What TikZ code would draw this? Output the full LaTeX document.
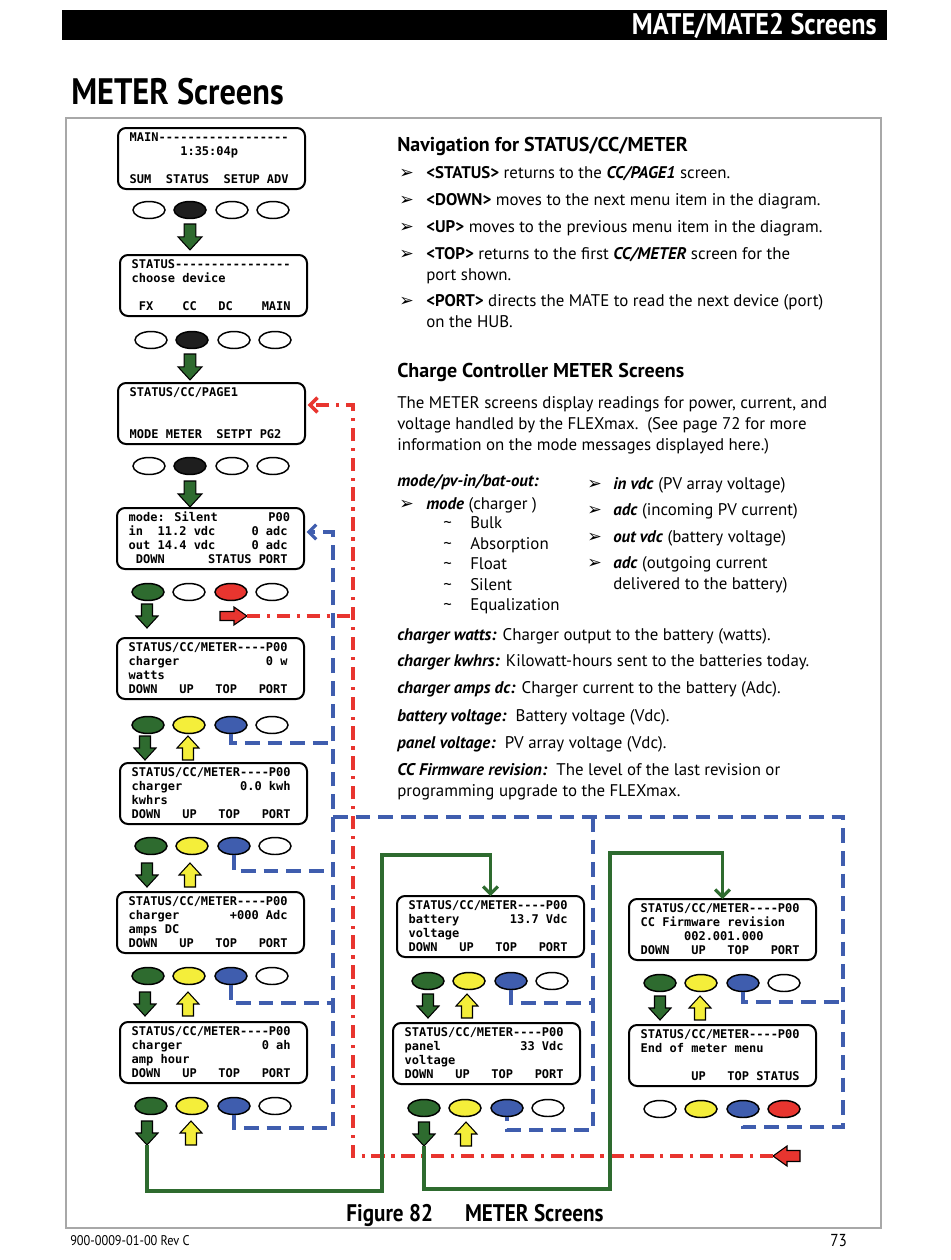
\documentclass[tikz,border=0pt]{standalone}
\usepackage{fontspec}
\setmainfont{PT Sans}
\newfontfamily\lcd{DejaVu Sans Mono}
\newfontfamily\dvs{DejaVu Sans}
\newfontfamily\cnd[FakeStretch=0.88]{PT Sans}
\usetikzlibrary{arrows.meta,shapes.geometric}
\definecolor{dgreen}{HTML}{2E6B2F}
\definecolor{yel}{HTML}{F4EE3A}
\definecolor{blu}{HTML}{3F5DAE}
\definecolor{rd}{HTML}{E8352F}
\definecolor{blk}{HTML}{1E1E1E}
\definecolor{framec}{HTML}{A8A8A8}
\newcommand\sk[1]{\hspace*{#1\dimexpr0.602em\relax}}
\newcommand\scrn[7]{%
  \node[scr] (#1) at (#2,#3) {};
  \node[lcdt] (#1t) at ([xshift=8.6pt,yshift=-2.3pt]#1.north west) {\strut#4\\\strut#5\\\strut#6\\\strut#7};
}
\newcommand\btns[7]{%
  \node[btn,fill=#4] (#1a) at (#2+31,#3) {};
  \node[btn,fill=#5] (#1b) at (#2+72,#3) {};
  \node[btn,fill=#6] (#1c) at (#2+114,#3) {};
  \node[btn,fill=#7] (#1d) at (#2+155,#3) {};
}
\newcommand\bull[4]{\node[bul] (#1b) at (#2,#3) {➢}; \node[body] (#1) at (#2+27,#3) {#4};}
\tikzset{
  scr/.style={draw=black,line width=1.5pt,rounded corners=6pt,fill=white,minimum width=140.25pt,minimum height=45.75pt,anchor=north west,inner sep=0pt,outer sep=0pt},
  lcdt/.style={font=\lcd\bfseries\fontsize{9pt}{10.5pt}\selectfont,align=left,anchor=north west,inner sep=0pt},
  btn/.style={ellipse,draw=black,line width=1.1pt,minimum width=24pt,minimum height=12.75pt,inner sep=0pt},
  blkarr/.style={draw=black,line width=0.8pt},
  gl/.style={draw=dgreen,line width=2.3pt},
  bl/.style={draw=blu,line width=2.4pt,dash pattern=on 11pt off 6pt},
  rl/.style={draw=rd,line width=2.6pt,dash pattern=on 10pt off 5pt on 2.4pt off 5pt},
  barb/.style={-{Straight Barb[length=5.5pt,width=11pt]}},
  body/.style={font=\fontsize{12.65pt}{15pt}\selectfont,anchor=base west,inner sep=0pt},
  bhead/.style={font=\fontsize{15pt}{18pt}\selectfont\bfseries,anchor=base west,inner sep=0pt},
  bul/.style={font=\dvs\fontsize{13pt}{14pt}\selectfont,anchor=base west,inner sep=0pt},
  dnarr/.pic={\path[pic actions] (-5.5,0) -- (5.5,0) -- (5.5,12) -- (11,12) -- (0,24) -- (-11,12) -- (-5.5,12) -- cycle; \coordinate (-tip) at (0,24);},
  uparr/.pic={\path[pic actions] (-5.5,0) -- (5.5,0) -- (5.5,-12) -- (11,-12) -- (0,-24) -- (-11,-12) -- (-5.5,-12) -- cycle; \coordinate (-tip) at (0,-24);},
  rtarr/.pic={\path[pic actions] (0,-4.5) -- (14,-4.5) -- (14,-9) -- (27,0) -- (14,9) -- (14,4.5) -- (0,4.5) -- cycle; \coordinate (-tip) at (27,0);},
  ltarr/.pic={\path[pic actions] (0,-5.5) -- (-13,-5.5) -- (-13,-10) -- (-27,0) -- (-13,10) -- (-13,5.5) -- (0,5.5) -- cycle; \coordinate (-tip) at (-27,0);},
}
\begin{document}
\begin{tikzpicture}[x=0.75pt,y=-0.75pt]
\useasboundingbox (0,0) rectangle (950,1260);
\fill[white] (0,0) rectangle (950,1260);
% header
\fill[black] (62,10) rectangle (887,40);
\node[anchor=base east,inner sep=0pt,text=white,font=\cnd\bfseries\fontsize{22.3pt}{24pt}\selectfont] (ttl) at (877,34) {MATE/MATE2 Screens};
\node[anchor=base west,inner sep=0pt,font=\cnd\bfseries\fontsize{27.6pt}{30pt}\selectfont] (hd) at (71,104) {METER Screens};
\draw[framec,line width=1.2pt] (66,118) rectangle (881,1228);
% footer
\node[anchor=base,inner sep=0pt,font=\cnd\bfseries\fontsize{18pt}{20pt}\selectfont] (cap) at (475,1221) {Figure 82\hspace{24pt}METER Screens};
\node[anchor=base west,inner sep=0pt,font=\cnd\fontsize{10.5pt}{12pt}\selectfont] (docn) at (70,1245) {900-0009-01-00 Rev C};
\node[anchor=base west,inner sep=0pt,font=\cnd\fontsize{13pt}{14pt}\selectfont] (pg) at (830,1246) {73};

% screens
\scrn{s1}{118}{128}{MAIN------------------}{\sk{7}1:35:04p}{}{SUM\sk{2}STATUS\sk{2}SETUP ADV}
\scrn{s2}{120}{255}{STATUS----------------}{choose device}{}{\sk{1}FX\sk{4}CC\sk{3}DC\sk{4}MAIN}
\scrn{s3}{118}{383}{STATUS/CC/PAGE1}{}{}{MODE METER\sk{2}SETPT PG2}
\scrn{s4}{117}{508}{mode: Silent\sk{7}P00}{in\sk{2}11.2 vdc\sk{5}0 adc}{out 14.4 vdc\sk{5}0 adc}{\sk{1}DOWN\sk{6}STATUS PORT}
\scrn{s5}{117}{638}{STATUS/CC/METER----P00}{charger\sk{12}0 w}{watts}{DOWN\sk{3}UP\sk{3}TOP\sk{3}PORT}
\scrn{s6}{120}{763}{STATUS/CC/METER----P00}{charger\sk{8}0.0 kwh}{kwhrs}{DOWN\sk{3}UP\sk{3}TOP\sk{3}PORT}
\scrn{s7}{117}{892}{STATUS/CC/METER----P00}{charger\sk{7}+000 Adc}{amps DC}{DOWN\sk{3}UP\sk{3}TOP\sk{3}PORT}
\scrn{s8}{120}{1022}{STATUS/CC/METER----P00}{charger\sk{11}0 ah}{amp hour}{DOWN\sk{3}UP\sk{3}TOP\sk{3}PORT}
\scrn{s9}{397}{896}{STATUS/CC/METER----P00}{battery\sk{7}13.7 Vdc}{voltage}{DOWN\sk{3}UP\sk{3}TOP\sk{3}PORT}
\scrn{s10}{393}{1023}{STATUS/CC/METER----P00}{panel\sk{11}33 Vdc}{voltage}{DOWN\sk{3}UP\sk{3}TOP\sk{3}PORT}
\scrn{s11}{629}{899}{STATUS/CC/METER----P00}{CC Firmware revision}{\sk{6}002.001.000}{DOWN\sk{3}UP\sk{3}TOP\sk{3}PORT}
\scrn{s12}{629}{1025}{STATUS/CC/METER----P00}{End of meter menu}{}{\sk{7}UP\sk{3}TOP STATUS}

% buttons
\btns{b1}{118}{210}{white}{blk}{white}{white}
\btns{b2}{120}{340}{white}{blk}{white}{white}
\btns{b3}{118}{466}{white}{blk}{white}{white}
\btns{b4}{117}{592}{dgreen}{white}{rd}{white}
\btns{b5}{117}{725}{dgreen}{yel}{blu}{white}
\btns{b6}{120}{846}{dgreen}{yel}{blu}{white}
\btns{b7}{117}{976}{dgreen}{yel}{blu}{white}
\btns{b8}{120}{1106}{dgreen}{yel}{blu}{white}
\btns{b9}{397}{981}{dgreen}{yel}{blu}{white}
\btns{b10}{393}{1108}{dgreen}{yel}{blu}{white}
\btns{b11}{629}{983}{dgreen}{yel}{blu}{white}
\btns{b12}{629}{1109}{white}{yel}{blu}{rd}

% block arrows
\pic[blkarr,fill=dgreen,scale=1.08] (ga1) at (190,224) {dnarr};
\pic[blkarr,fill=dgreen,scale=1.08] (ga2) at (190,354) {dnarr};
\pic[blkarr,fill=dgreen,scale=1.08] (ga3) at (190,481) {dnarr};
\pic[blkarr,fill=dgreen] (g4) at (147,604) {dnarr};
\pic[blkarr,fill=rd] (ra1) at (220,616) {rtarr};
\pic[blkarr,fill=dgreen] (g5) at (145,736) {dnarr};
\pic[blkarr,fill=yel] (y5) at (188,760) {uparr};
\pic[blkarr,fill=dgreen] (g6) at (147,863) {dnarr};
\pic[blkarr,fill=yel] (y6) at (190,887) {uparr};
\pic[blkarr,fill=dgreen] (g7) at (145,992) {dnarr};
\pic[blkarr,fill=yel] (y7) at (188,1016) {uparr};
\pic[blkarr,fill=dgreen] (g8) at (147,1121) {dnarr};
\pic[blkarr,fill=yel] (y8) at (191,1145) {uparr};
\pic[blkarr,fill=dgreen] (g9) at (428,994) {dnarr};
\pic[blkarr,fill=yel] (y9) at (467,1018) {uparr};
\pic[blkarr,fill=dgreen] (g10) at (424,1122) {dnarr};
\pic[blkarr,fill=yel] (y10) at (466,1146) {uparr};
\pic[blkarr,fill=dgreen] (g11) at (660,996) {dnarr};
\pic[blkarr,fill=yel] (y11) at (700,1020) {uparr};
\pic[blkarr,fill=rd] (ra2) at (800,1156) {ltarr};

% blue TOP connectors
\coordinate (Lt) at (333,532);
\coordinate (Lb) at (333,1128);
\coordinate (Hj) at (333,817);
\coordinate (Mj) at (593,817);
\coordinate (Rj) at (843,817);
\coordinate (j5) at (333,743);
\coordinate (j6) at (333,871);
\coordinate (j7) at (333,1003);
\coordinate (j9) at (593,1003);
\coordinate (j10) at (593,1130);
\coordinate (j11) at (843,1002);
\coordinate (j12) at (843,1127);
\draw[bl,barb,shorten >=2pt] (b8c.south) |- (Lb) -- (Lt) -- (s4.east |- Lt);
\draw[bl] (b5c.south) |- (j5);
\draw[bl] (b6c.south) |- (j6);
\draw[bl] (b7c.south) |- (j7);
\draw[bl] (Hj) -- (Rj) -- (j12) -| (b12c.south);
\draw[bl] (Mj) -- (j10) -| (b10c.south);
\draw[bl] (b9c.south) |- (j9);
\draw[bl] (b11c.south) |- (j11);

% red STATUS connectors
\coordinate (Rt) at (353,405);
\coordinate (Rb) at (353,1156);
\coordinate (Rm) at (353,616);
\draw[rl,barb,shorten >=2pt] (ra2-tip) -- (Rb) -- (Rt) -- (s3.east |- Rt);
\draw[rl] (ra1-tip) -- (Rm);

% green DOWN connectors
\coordinate (gA) at (382,1191);
\coordinate (gB) at (382,855);
\coordinate (gC) at (610,1189);
\coordinate (gD) at (610,853);
\draw[gl,barb] (g8-tip) |- (gA) -- (gB) -| (s9.north);
\draw[gl,barb] (g10-tip) |- (gC) -- (gD) -| (s11.north);

% right text
\node[bhead] (n0) at (397,151) {Navigation for STATUS/CC/METER};
\bull{n1}{399}{178}{\textbf{<STATUS>} returns to the \textbf{\textit{CC/PAGE1}} screen.}
\bull{n2}{399}{205}{\textbf{<DOWN>} moves to the next menu item in the diagram.}
\bull{n3}{399}{232}{\textbf{<UP>} moves to the previous menu item in the diagram.}
\bull{n4}{399}{259}{\textbf{<TOP>} returns to the first \textbf{\textit{CC/METER}} screen for the}
\node[body] (n4b) at (426,280) {port shown.};
\bull{n5}{399}{306}{\textbf{<PORT>} directs the MATE to read the next device (port)}
\node[body] (n5b) at (426,327) {on the HUB.};

\node[bhead] (c0) at (397,377) {Charge Controller METER Screens};
\node[body] (c1) at (397,408) {The METER screens display readings for power, current, and};
\node[body] (c2) at (397,429) {voltage handled by the FLEXmax.\ \ (See page 72 for more};
\node[body] (c3) at (397,450) {information on the mode messages displayed here.)};
\node[body] (m0) at (397,486) {\textbf{\textit{mode/pv-in/bat-out:}}};
\bull{m1}{399}{509}{\textbf{\textit{mode}} (charger )}
\node[body] (m2t) at (443,528) {\textasciitilde}; \node[body] (m2) at (470,528) {Bulk};
\node[body] (m3t) at (443,549) {\textasciitilde}; \node[body] (m3) at (470,549) {Absorption};
\node[body] (m4t) at (443,569) {\textasciitilde}; \node[body] (m4) at (470,569) {Float};
\node[body] (m5t) at (443,590) {\textasciitilde}; \node[body] (m5) at (470,590) {Silent};
\node[body] (m6t) at (443,610) {\textasciitilde}; \node[body] (m6) at (470,610) {Equalization};
\node[bul] (r1b) at (587,489) {➢}; \node[body] (r1) at (613,489) {\textbf{\textit{in vdc}} (PV array voltage)};
\node[bul] (r2b) at (587,515) {➢}; \node[body] (r2) at (613,515) {\textbf{\textit{adc}} (incoming PV current)};
\node[bul] (r3b) at (587,542) {➢}; \node[body] (r3) at (613,542) {\textbf{\textit{out vdc}} (battery voltage)};
\node[bul] (r4b) at (587,568) {➢}; \node[body] (r4) at (613,568) {\textbf{\textit{adc}} (outgoing current};
\node[body] (r4c) at (613,589) {delivered to the battery)};

\node[body] (d1) at (397,640) {\textbf{\textit{charger watts:}} Charger output to the battery (watts).};
\node[body] (d2) at (397,666) {\textbf{\textit{charger kwhrs:}} Kilowatt-hours sent to the batteries today.};
\node[body] (d3) at (397,693) {\textbf{\textit{charger amps dc:}} Charger current to the battery (Adc).};
\node[body] (d4) at (397,721) {\textbf{\textit{battery voltage:}}\ \ Battery voltage (Vdc).};
\node[body] (d5) at (397,748) {\textbf{\textit{panel voltage:}}\ \ PV array voltage (Vdc).};
\node[body] (d6) at (397,775) {\textbf{\textit{CC Firmware revision:}}\ \ The level of the last revision or};
\node[body] (d7) at (397,796) {programming upgrade to the FLEXmax.};
\end{tikzpicture}
\end{document}
